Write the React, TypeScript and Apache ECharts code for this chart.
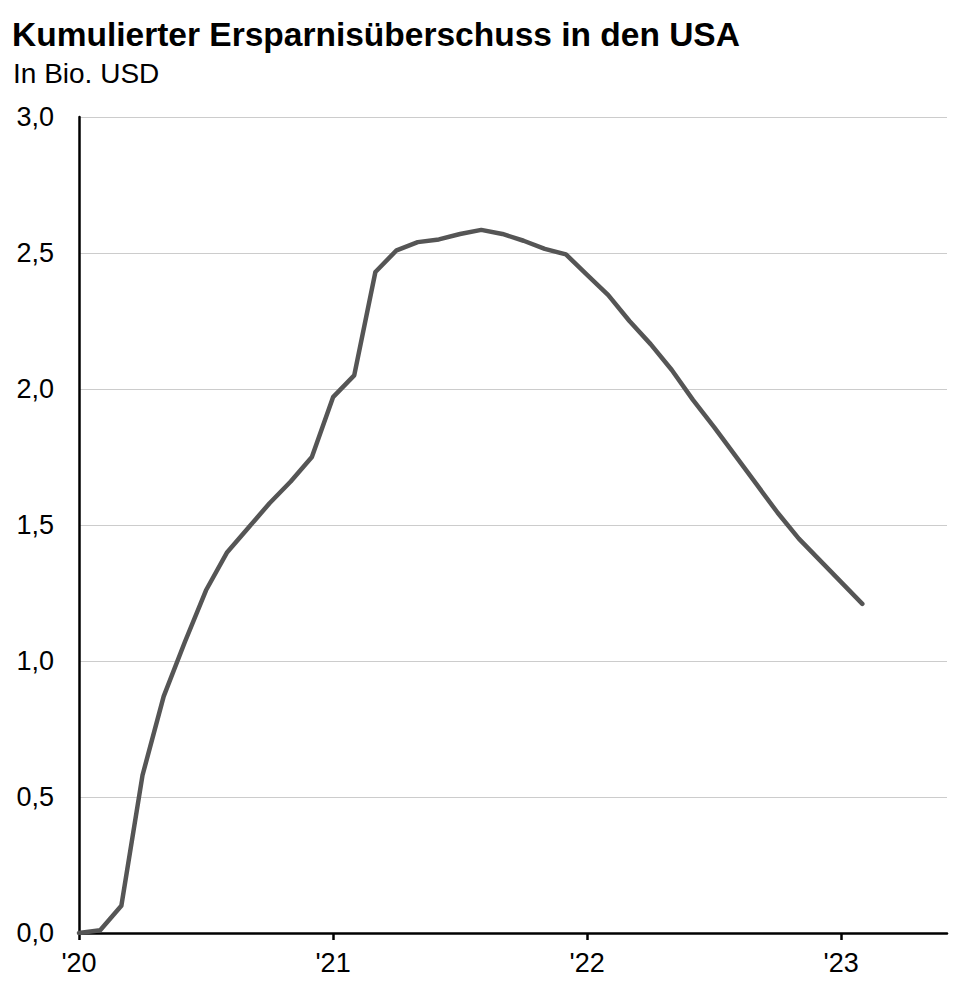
import React, { useEffect, useRef } from "react";
import * as echarts from "echarts";

// Month index 0 = Jan 2020
const months: number[] = Array.from({ length: 38 }, (_, i) => i);
const savings: number[] = [
  0.0, 0.01, 0.1, 0.58, 0.87, 1.07, 1.26, 1.4, 1.49, 1.58, 1.66, 1.75,
  1.97, 2.05, 2.43, 2.51, 2.54, 2.55, 2.57, 2.585, 2.57, 2.545, 2.515, 2.495,
  2.42, 2.345, 2.25, 2.165, 2.07, 1.96, 1.86, 1.755, 1.65, 1.545, 1.45, 1.37,
  1.29, 1.21,
];
const yearTicks: number[] = [0, 12, 24, 36];
const yearLabels: string[] = ["'20", "'21", "'22", "'23"];
const title = "Kumulierter Ersparnisüberschuss in den USA";
const subtitle = "In Bio. USD";

export default function App() {
  const ref = useRef<HTMLDivElement>(null);
  useEffect(() => {
    document.body.style.margin = "0";
    if (!ref.current) return;
    const chart = echarts.init(ref.current, undefined, { renderer: "svg" });
    const font = "'Liberation Sans', Arial, sans-serif";
    chart.setOption({
      animation: false,
      backgroundColor: "#ffffff",
      title: [
        {
          text: title,
          left: 7,
          top: 12,
          textStyle: { fontFamily: font, fontSize: 33.5, fontWeight: "bold", color: "#000" },
        },
        {
          text: subtitle,
          left: 8,
          top: 54,
          textStyle: { fontFamily: font, fontSize: 28, fontWeight: "normal", color: "#000" },
        },
      ],
      grid: { left: 79, right: 22, top: 117, bottom: 67, containLabel: false },
      xAxis: {
        type: "value",
        min: 0,
        max: 41,
        interval: 12,
        splitLine: { show: false },
        axisLine: { show: true, lineStyle: { color: "#000", width: 2.5 } },
        axisTick: {
          show: true,
          customValues: yearTicks,
          length: 7,
          lineStyle: { color: "#000", width: 2.5 },
        },
        axisLabel: {
          customValues: yearTicks,
          margin: 16,
          fontFamily: font,
          fontSize: 27,
          color: "#000",
          formatter: (v: number) => yearLabels[yearTicks.indexOf(Math.round(v))] ?? "",
        },
      },
      yAxis: {
        type: "value",
        min: 0,
        max: 3,
        interval: 0.5,
        axisLine: { show: true, lineStyle: { color: "#000", width: 2.5 } },
        axisTick: { show: false },
        splitLine: { show: true, lineStyle: { color: "#cccccc", width: 1.2 } },
        axisLabel: {
          margin: 25,
          fontFamily: font,
          fontSize: 27,
          color: "#000",
          formatter: (v: number) => v.toFixed(1).replace(".", ","),
        },
      },
      series: [
        {
          type: "line",
          data: months.map((m, i) => [m, savings[i]]),
          showSymbol: false,
          symbol: "none",
          lineStyle: { color: "#555555", width: 4.5, cap: "round", join: "round" },
          z: 3,
        },
      ],
    });
    return () => chart.dispose();
  }, []);
  return <div ref={ref} style={{ width: 969, height: 1000 }} />;
}
